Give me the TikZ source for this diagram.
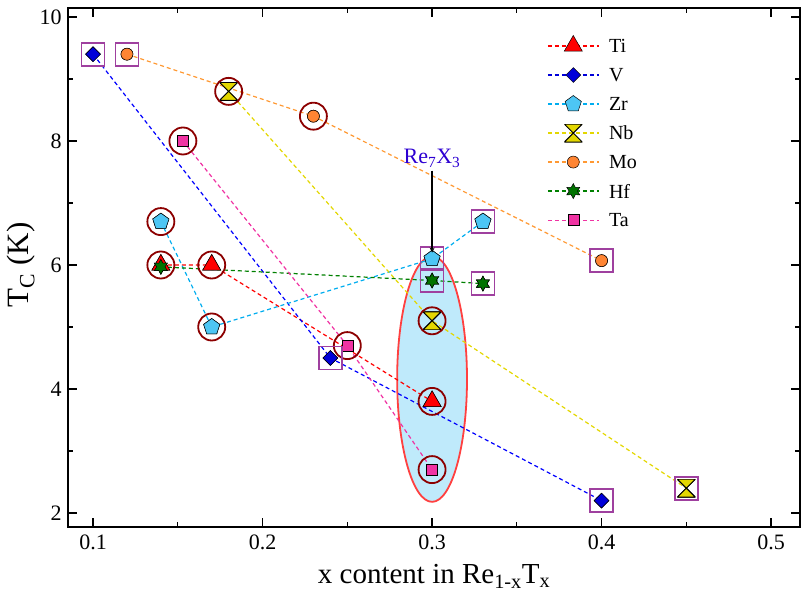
\documentclass[tikz,border=0pt]{standalone}
\usepackage{fontspec}
\setmainfont{Liberation Serif}
\setsansfont{Liberation Sans}
\usetikzlibrary{shapes.geometric,shapes.misc}
\tikzset{
  mk/.style={draw=black, inner sep=0pt, line width=0.5pt},
  tri/.style={mk, regular polygon, regular polygon sides=3, fill=red, minimum size=21pt},
  dia/.style={mk, diamond, fill=blue!85!black, minimum size=15pt},
  pent/.style={mk, regular polygon, regular polygon sides=5, fill=cyan!70!white, minimum size=17pt},
  hgl/.style={mk, rectangle, minimum size=18pt, path picture={
      \fill[yellow!75!olive] (path picture bounding box.north west) -- (path picture bounding box.north east)
        -- (path picture bounding box.south west) -- (path picture bounding box.south east) -- cycle;
      \draw[line width=1pt] (path picture bounding box.north west) -- (path picture bounding box.north east)
        -- (path picture bounding box.south west) -- (path picture bounding box.south east) -- cycle;}, draw=none},
  ball/.style={mk, circle, fill=orange!80!red!80, minimum size=12pt},
  hstar/.style={mk, star, star points=6, star point ratio=1.8, fill=green!45!black, minimum size=15pt},
  sq/.style={mk, rectangle, fill=magenta!80, minimum size=11pt},
  ring/.style={circle, draw=red!55!black, line width=1.8pt, minimum size=27pt, inner sep=0pt},
  box/.style={rectangle, draw=violet!75, line width=1.8pt, minimum size=23pt, inner sep=0pt},
  link/.style={dash pattern=on 4pt off 3pt, line width=1.2pt},
  lbl/.style={font=\fontsize{22}{24}\selectfont}
}
\begin{document}
\begin{tikzpicture}[x=1695pt, y=62pt]
\useasboundingbox (0.0451,0.484) rectangle (0.5206,10.274);

% highlighted region
\draw[red!75, line width=1.8pt, fill=cyan!25] (0.30,4.16) ellipse (0.0206 and 1.98);

% markers
\node[tri] (ti1) at (0.14,6.0) {};
\node[tri] (ti2) at (0.17,6.0) {};
\node[tri] (ti3) at (0.30,3.8) {};
\node[dia] (v1) at (0.10,9.4) {};
\node[dia] (v2) at (0.24,4.5) {};
\node[dia] (v3) at (0.40,2.2) {};
\node[pent] (zr1) at (0.14,6.7) {};
\node[pent] (zr2) at (0.17,5.0) {};
\node[pent] (zr3) at (0.30,6.1) {};
\node[pent] (zr4) at (0.33,6.7) {};
\node[hgl] (nb1) at (0.18,8.8) {};
\node[hgl] (nb2) at (0.30,5.1) {};
\node[hgl] (nb3) at (0.45,2.4) {};
\node[ball] (mo1) at (0.12,9.4) {};
\node[ball] (mo2) at (0.23,8.4) {};
\node[ball] (mo3) at (0.40,6.07) {};
\node[hstar] (hf1) at (0.14,5.97) {};
\node[hstar] (hf2) at (0.30,5.75) {};
\node[hstar] (hf3) at (0.33,5.7) {};
\node[sq] (ta1) at (0.153,8.0) {};
\node[sq] (ta2) at (0.25,4.7) {};
\node[sq] (ta3) at (0.30,2.7) {};

% connectors
\draw[link, red] (ti1.center) -- (ti2.center) -- (ti3.center);
\draw[link, blue] (v1.center) -- (v2.center) -- (v3.center);
\draw[link, cyan] (zr1.center) -- (zr2.center) -- (zr3.center) -- (zr4.center);
\draw[link, yellow!75!olive] (nb1.center) -- (nb2.center) -- (nb3.center);
\draw[link, orange!80] (mo1.center) -- (mo2.center) -- (mo3.center);
\draw[link, green!50!black] (hf1.center) -- (hf2.center) -- (hf3.center);
\draw[link, magenta!80] (ta1.center) -- (ta2.center) -- (ta3.center);

% redraw markers above the lines
\foreach \n/\s in {ti1/tri,ti2/tri,ti3/tri,v1/dia,v2/dia,v3/dia,zr1/pent,zr2/pent,zr3/pent,zr4/pent,
  mo1/ball,mo2/ball,mo3/ball,hf1/hstar,hf2/hstar,hf3/hstar,ta1/sq,ta2/sq,ta3/sq,nb1/hgl,nb2/hgl,nb3/hgl}
  \node[\s] at (\n) {};

% rings and boxes
\foreach \n in {ti1,ti2,ti3,zr1,zr2,nb1,nb2,mo2,ta1,ta2,ta3}
  \node[ring] at (\n) {};
\foreach \n in {v1,v2,v3,zr3,zr4,nb3,mo1,mo3,hf2,hf3}
  \node[box] at (\n) {};

% label
\node[text=blue!65!violet, lbl] (re) at (0.30,7.72) {Re\textsubscript{7}X\textsubscript{3}};
\draw[-stealth, line width=1.2pt] (re.south) -- (0.30,6.2);

% frame and ticks
\draw[line width=1.4pt] (0.0853,1.774) rectangle (0.5171,10.145);
\foreach \x in {0.1,0.2,0.3,0.4,0.5} {
  \draw[line width=1.2pt] (\x,1.774) -- ++(0,9pt) (\x,10.145) -- ++(0,-9pt);
  \node[below=4pt, lbl] at (\x,1.774) {\x};
}
\foreach \x in {0.15,0.25,0.35,0.45}
  \draw[line width=1.2pt] (\x,1.774) -- ++(0,5pt) (\x,10.145) -- ++(0,-5pt);
\foreach \y in {2,4,6,8,10} {
  \draw[line width=1.2pt] (0.0853,\y) -- ++(9pt,0) (0.5171,\y) -- ++(-9pt,0);
  \node[left=3pt, lbl] at (0.0853,\y) {\y};
}
\foreach \y in {3,5,7,9}
  \draw[line width=1.2pt] (0.0853,\y) -- ++(5pt,0) (0.5171,\y) -- ++(-5pt,0);

\node[font=\fontsize{29}{31}\selectfont] at (0.3012,0.98) {x content in Re\textsubscript{1-x}T\textsubscript{x}};
\node[rotate=90, font=\fontsize{31}{33}\selectfont] at (0.0575,6.0) {T\textsubscript{C} (K)};

% legend
\foreach \s/\c/\t [count=\i] in {tri/red/Ti,dia/blue!85!black/V,pent/cyan/Zr,hgl/yellow!75!olive/Nb,
  ball/orange!80/Mo,hstar/green!50!black/Hf,sq/magenta!80/Ta} {
  \coordinate (la\i) at (0.3683,10.0-\i*0.468);
  \draw[link, \c] (la\i) -- ++(0.03,0);
  \node[\s] (lm\i) at ([xshift=0.015*1695pt]la\i) {};
  \node[right, font=\fontsize{20}{22}\selectfont] at ([xshift=0.034*1695pt]la\i) {\t};
}
\end{tikzpicture}
\end{document}
